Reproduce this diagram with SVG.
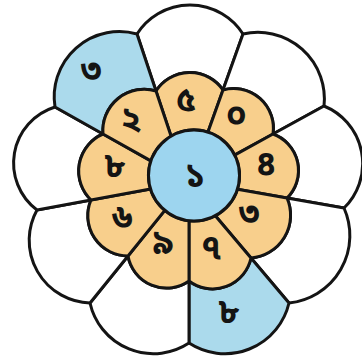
<svg xmlns="http://www.w3.org/2000/svg" width="362" height="356" viewBox="0 0 362 356">
<style>
.ln{stroke:#141414;stroke-width:3;stroke-linejoin:round;stroke-linecap:round}
.w{fill:#ffffff}
.b{fill:#abdaec}
.o{fill:#f8cf8c}
.c{fill:#9dd5ef}
.t{font-family:'Noto Sans Bengali','Noto Serif Bengali','Lohit Bengali','Noto Sans',sans-serif;font-size:34px;font-weight:700;fill:#141414;text-anchor:middle;dominant-baseline:central}
</style>
<rect width="362" height="356" fill="#ffffff"/>
<g id="outer-petals">
<path id="op-top" class="w ln" d="M137,34 A62.9,62.9 0 0 1 243,34 L223,90 A40.2,40.2 0 0 0 156,91 Z"/>
<path id="op-ur" class="w ln" d="M243,34 A66.5,66.5 0 0 1 324,106 L273,134 A39.8,39.8 0 0 0 223,90 Z"/>
<path id="op-r" class="w ln" d="M324,106 A62.2,62.2 0 0 1 344,208 L287,198 A38.8,38.8 0 0 0 273,134 Z"/>
<path id="op-lr" class="w ln" d="M344,208 A67.8,67.8 0 0 1 289,303 L251,258 A43,43 0 0 0 287,198 Z"/>
<path id="op-b" class="b ln" d="M289,303 A65.8,65.8 0 0 1 189,343 L189,281 A39.3,39.3 0 0 0 251,258 Z"/>
<path id="op-bl" class="w ln" d="M189,343 A64.9,64.9 0 0 1 90,303 L128,256 A39.2,39.2 0 0 0 189,281 Z"/>
<path id="op-ll" class="w ln" d="M90,303 A62.7,62.7 0 0 1 37,210 L91,200 A40.3,40.3 0 0 0 128,256 Z"/>
<path id="op-l" class="w ln" d="M37,210 A58.7,58.7 0 0 1 55,107 L103,134 A40.3,40.3 0 0 0 91,200 Z"/>
<path id="op-ul" class="b ln" d="M55,107 A65.2,65.2 0 0 1 137,34 L156,91 A41.3,41.3 0 0 0 103,134 Z"/>
</g>
<g id="inner-petals">
<path id="ip-top" class="o ln" d="M156,91 A40.2,40.2 0 0 1 223,90 L207.9,132.2 A45.5,45.5 0 0 0 171.1,136.2 Z"/>
<path id="ip-ur" class="o ln" d="M223,90 A39.8,39.8 0 0 1 273,134 L234.6,155.1 A45.5,45.5 0 0 0 207.9,132.2 Z"/>
<path id="ip-r" class="o ln" d="M273,134 A38.8,38.8 0 0 1 287,198 L237.4,189.3 A45.5,45.5 0 0 0 234.6,155.1 Z"/>
<path id="ip-lr" class="o ln" d="M287,198 A43,43 0 0 1 251,258 L215.3,215.7 A45.5,45.5 0 0 0 237.4,189.3 Z"/>
<path id="ip-b" class="o ln" d="M251,258 A39.3,39.3 0 0 1 189,281 L189,220.7 A45.5,45.5 0 0 0 215.3,215.7 Z"/>
<path id="ip-bl" class="o ln" d="M189,281 A39.2,39.2 0 0 1 128,256 L164.8,210.4 A45.5,45.5 0 0 0 189,220.7 Z"/>
<path id="ip-ll" class="o ln" d="M128,256 A40.3,40.3 0 0 1 91,200 L150.5,189 A45.5,45.5 0 0 0 164.8,210.4 Z"/>
<path id="ip-l" class="o ln" d="M91,200 A40.3,40.3 0 0 1 103,134 L150.9,160.9 A45.5,45.5 0 0 0 150.5,189 Z"/>
<path id="ip-ul" class="o ln" d="M103,134 A41.3,41.3 0 0 1 156,91 L171.1,136.2 A45.5,45.5 0 0 0 150.9,160.9 Z"/>
</g>
<g id="center">
<circle class="c ln" cx="194" cy="175.5" r="45.5"/>
</g>
<g id="labels">
<text class="t" x="195" y="178">১</text>
<text class="t" x="186" y="102">৫</text>
<text class="t" x="236" y="117">০</text>
<text class="t" x="266" y="166">৪</text>
<text class="t" x="249" y="216">৩</text>
<text class="t" x="211" y="250">৭</text>
<text class="t" x="163" y="245">৯</text>
<text class="t" x="122" y="220">৬</text>
<text class="t" x="115" y="168">৮</text>
<text class="t" x="131" y="122">২</text>
<text class="t" x="91" y="73">৩</text>
<text class="t" x="229" y="314">৮</text>
</g>
</svg>
